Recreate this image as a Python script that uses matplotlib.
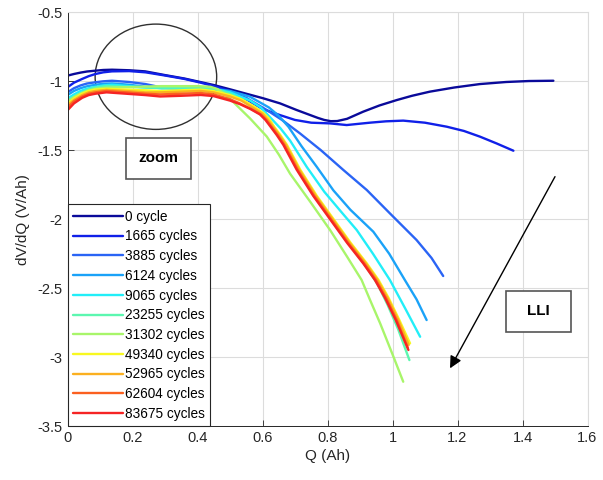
import matplotlib
matplotlib.use("Agg")
import matplotlib.pyplot as plt
from matplotlib.patches import Ellipse, Rectangle

plt.rcParams['font.family'] = ['Liberation Sans', 'DejaVu Sans']
plt.rcParams['axes.unicode_minus'] = False

labels = ["0 cycle", "1665 cycles", "3885 cycles", "6124 cycles", "9065 cycles",
          "23255 cycles", "31302 cycles", "49340 cycles", "52965 cycles",
          "62604 cycles", "83675 cycles"]
colors = ["#0a0a9a", "#1020e8", "#2a64f5", "#1aa2f8", "#22eef8", "#5cf7b0",
          "#a8f56a", "#f8f820", "#fbb020", "#fb6020", "#f52424"]

x0 = [0, 0.02, 0.04, 0.06, 0.086, 0.11, 0.137, 0.19, 0.239, 0.3, 0.36, 0.408, 0.45, 0.5, 0.55,
      0.602, 0.654, 0.705, 0.746, 0.77, 0.79, 0.81, 0.83, 0.86, 0.91, 0.96, 1.013, 1.06, 1.115,
      1.19, 1.269, 1.35, 1.42, 1.495]
y0 = [-0.959, -0.947, -0.937, -0.929, -0.923, -0.918, -0.916, -0.92, -0.928, -0.955, -0.98,
      -1.005, -1.027, -1.058, -1.09, -1.123, -1.16, -1.208, -1.244, -1.265, -1.28, -1.289, -1.288,
      -1.272, -1.22, -1.175, -1.136, -1.105, -1.075, -1.045, -1.02, -1.005, -0.998, -0.996]

x1 = [0, 0.02, 0.045, 0.065, 0.086, 0.11, 0.137, 0.19, 0.24, 0.3, 0.36, 0.41, 0.45, 0.5, 0.55,
      0.6, 0.654, 0.7, 0.75, 0.808, 0.859, 0.93, 0.98, 1.033, 1.1, 1.167, 1.22, 1.269, 1.32, 1.372]
y1 = [-1.043, -1.01, -0.983, -0.963, -0.947, -0.935, -0.928, -0.926, -0.935, -0.958, -0.983,
      -1.01, -1.035, -1.07, -1.13, -1.2, -1.245, -1.28, -1.3, -1.305, -1.317, -1.30, -1.29, -1.285,
      -1.30, -1.329, -1.36, -1.401, -1.45, -1.503]

x2 = [0, 0.02, 0.04, 0.06, 0.086, 0.11, 0.137, 0.19, 0.24, 0.29, 0.35, 0.4, 0.45, 0.5, 0.55,
      0.613, 0.66, 0.715, 0.78, 0.849, 0.921, 0.992, 1.074, 1.12, 1.156]
y2 = [-1.08, -1.05, -1.03, -1.016, -1.007, -1.0, -0.996, -1.005, -1.02, -1.045, -1.055, -1.055,
      -1.06, -1.08, -1.12, -1.208, -1.28, -1.377, -1.50, -1.643, -1.788, -1.957, -2.15, -2.28,
      -2.411]

x3 = [0, 0.02, 0.04, 0.06, 0.086, 0.11, 0.137, 0.19, 0.24, 0.29, 0.35, 0.4, 0.45, 0.5, 0.56,
      0.62, 0.65, 0.68, 0.72, 0.767, 0.818, 0.87, 0.941, 0.99, 1.038, 1.074, 1.105]
y3 = [-1.10, -1.07, -1.05, -1.036, -1.025, -1.018, -1.015, -1.025, -1.04, -1.05, -1.05, -1.05,
      -1.055, -1.07, -1.11, -1.19, -1.25, -1.33, -1.47, -1.62, -1.79, -1.93, -2.09, -2.25, -2.44,
      -2.58, -2.73]

x4 = [0, 0.02, 0.04, 0.06, 0.086, 0.11, 0.137, 0.19, 0.24, 0.29, 0.35, 0.4, 0.45, 0.5, 0.562,
      0.595, 0.623, 0.655, 0.685, 0.736, 0.79, 0.84, 0.89, 0.94, 0.992, 1.04, 1.085]
y4 = [-1.125, -1.095, -1.07, -1.053, -1.04, -1.03, -1.025, -1.035, -1.045, -1.05, -1.052,
      -1.052, -1.055, -1.08, -1.14, -1.19, -1.26, -1.34, -1.43, -1.62, -1.80, -1.94, -2.078,
      -2.25, -2.44, -2.65, -2.851]

x5 = [0, 0.02, 0.045, 0.065, 0.086, 0.12, 0.18, 0.24, 0.285, 0.35, 0.41, 0.449, 0.5, 0.535,
      0.57, 0.6, 0.615, 0.633, 0.652, 0.672, 0.713, 0.764, 0.816, 0.868, 0.918, 0.954, 0.985,
      1.018, 1.052]
y5 = [-1.14, -1.11, -1.08, -1.058, -1.045, -1.035, -1.04, -1.045, -1.045, -1.045, -1.045, -1.05,
      -1.09, -1.13, -1.19, -1.24, -1.28, -1.34, -1.40, -1.47, -1.65, -1.84, -2.01, -2.18, -2.34,
      -2.47, -2.62, -2.80, -3.02]

x6 = [0, 0.02, 0.04, 0.06, 0.086, 0.11, 0.137, 0.19, 0.24, 0.29, 0.35, 0.4, 0.44, 0.46, 0.48,
      0.51, 0.562, 0.613, 0.65, 0.685, 0.746, 0.808, 0.86, 0.905, 0.931, 0.962, 1.003, 1.033]
y6 = [-1.15, -1.115, -1.09, -1.07, -1.055, -1.048, -1.045, -1.042, -1.038, -1.035, -1.035,
      -1.035, -1.04, -1.055, -1.085, -1.15, -1.27, -1.40, -1.53, -1.67, -1.87, -2.078, -2.27,
      -2.44, -2.585, -2.754, -2.996, -3.177]

x7 = [0, 0.02, 0.045, 0.065, 0.086, 0.12, 0.18, 0.24, 0.285, 0.35, 0.41, 0.449, 0.5, 0.535,
      0.572, 0.603, 0.62, 0.636, 0.655, 0.675, 0.716, 0.767, 0.819, 0.871, 0.921, 0.957, 0.988,
      1.021, 1.054]
y7 = [-1.165, -1.125, -1.09, -1.07, -1.06, -1.055, -1.06, -1.065, -1.07, -1.065, -1.06, -1.07,
      -1.10, -1.13, -1.18, -1.23, -1.27, -1.33, -1.39, -1.46, -1.64, -1.83, -2.0, -2.17, -2.32,
      -2.44, -2.57, -2.73, -2.899]

x8 = [0, 0.02, 0.045, 0.065, 0.086, 0.12, 0.18, 0.24, 0.285, 0.35, 0.41, 0.449, 0.5, 0.535,
      0.57, 0.6, 0.617, 0.633, 0.652, 0.672, 0.713, 0.764, 0.816, 0.868, 0.918, 0.954, 0.985,
      1.018, 1.05]
y8 = [-1.175, -1.135, -1.10, -1.08, -1.07, -1.062, -1.07, -1.08, -1.08, -1.075, -1.07, -1.08,
      -1.11, -1.14, -1.19, -1.235, -1.28, -1.33, -1.39, -1.46, -1.64, -1.83, -2.0, -2.17, -2.32,
      -2.44, -2.57, -2.73, -2.91]

x9 = [0, 0.02, 0.045, 0.065, 0.086, 0.12, 0.18, 0.24, 0.285, 0.35, 0.41, 0.449, 0.5, 0.53,
      0.565, 0.595, 0.612, 0.628, 0.647, 0.667, 0.708, 0.759, 0.811, 0.863, 0.913, 0.949, 0.98,
      1.013, 1.047]
y9 = [-1.19, -1.145, -1.11, -1.09, -1.08, -1.07, -1.08, -1.09, -1.095, -1.09, -1.085, -1.095,
      -1.13, -1.16, -1.20, -1.24, -1.28, -1.33, -1.39, -1.46, -1.64, -1.83, -2.0, -2.17, -2.32,
      -2.44, -2.57, -2.73, -2.93]

x10 = [0, 0.02, 0.045, 0.065, 0.086, 0.12, 0.18, 0.24, 0.285, 0.35, 0.41, 0.449, 0.5, 0.53,
       0.562, 0.592, 0.609, 0.625, 0.644, 0.664, 0.705, 0.756, 0.808, 0.86, 0.91, 0.946, 0.977,
       1.01, 1.049]
y10 = [-1.21, -1.16, -1.12, -1.10, -1.09, -1.08, -1.09, -1.10, -1.11, -1.105, -1.099, -1.107,
       -1.14, -1.165, -1.20, -1.24, -1.28, -1.33, -1.39, -1.46, -1.64, -1.83, -2.0, -2.17, -2.32,
       -2.44, -2.57, -2.73, -2.947]

xs = [x0, x1, x2, x3, x4, x5, x6, x7, x8, x9, x10]
ys = [y0, y1, y2, y3, y4, y5, y6, y7, y8, y9, y10]

xticks = [0, 0.2, 0.4, 0.6, 0.8, 1.0, 1.2, 1.4, 1.6]
xticklabels = ["0", "0.2", "0.4", "0.6", "0.8", "1", "1.2", "1.4", "1.6"]
yticks = [-3.5, -3, -2.5, -2, -1.5, -1, -0.5]
yticklabels = ["-3.5", "-3", "-2.5", "-2", "-1.5", "-1", "-0.5"]

fig = plt.figure(figsize=(6.03, 4.8), dpi=100)
ax = fig.add_axes([67.5 / 603, (480 - 426.3) / 480, 520 / 603, 414 / 480])

for xv, yv, c, lab in zip(xs, ys, colors, labels):
    ax.plot(xv, yv, color=c, lw=1.7, label=lab, solid_capstyle='round',
            solid_joinstyle='round')

ax.set_xlim(0, 1.6)
ax.set_ylim(-3.5, -0.5)
ax.set_xticks(xticks)
ax.set_xticklabels(xticklabels)
ax.set_yticks(yticks)
ax.set_yticklabels(yticklabels)
ax.tick_params(direction='in', labelsize=10.5, colors='#262626', length=4, width=0.6)
ax.grid(True, color='#dcdcdc', lw=0.8)
ax.set_axisbelow(True)
for s in ['left', 'bottom']:
    ax.spines[s].set_color('#262626')
    ax.spines[s].set_linewidth(0.7)
for s in ['top', 'right']:
    ax.spines[s].set_color('#dcdcdc')
    ax.spines[s].set_linewidth(0.8)
ax.set_xlabel("Q (Ah)", fontsize=11, color='#262626', labelpad=3)
ax.set_ylabel("dV/dQ (V/Ah)", fontsize=11, color='#262626', labelpad=5)

leg = ax.legend(loc='lower left', bbox_to_anchor=(0, 0), borderaxespad=0.0,
                fontsize=9.8, handlelength=3.7, handletextpad=0.1, labelspacing=0.42,
                fancybox=False, framealpha=1, edgecolor='#262626', borderpad=0.4)
leg.get_frame().set_linewidth(0.8)

# annotations
ax.add_patch(Ellipse((0.272, -0.967), 0.374, 0.763, fill=False, edgecolor='#303030', lw=1.0))
ax.add_patch(Rectangle((0.18, -1.705), 0.199, 0.297, fill=True, facecolor='white',
                       edgecolor='#555555', lw=1.2))
ax.text(0.2795, -1.556, "zoom", ha='center', va='center', fontsize=11, fontweight='bold')
ax.add_patch(Rectangle((1.349, -2.815), 0.199, 0.295, fill=True, facecolor='white',
                       edgecolor='#555555', lw=1.2))
ax.text(1.4485, -2.667, "LLI", ha='center', va='center', fontsize=11, fontweight='bold')
ax.annotate("", xy=(1.177, -3.08), xytext=(1.5, -1.691),
            arrowprops=dict(arrowstyle='-|>', color='black', lw=1.0, mutation_scale=18,
                            shrinkA=0, shrinkB=0))

fig.savefig("out.png", dpi=100)
